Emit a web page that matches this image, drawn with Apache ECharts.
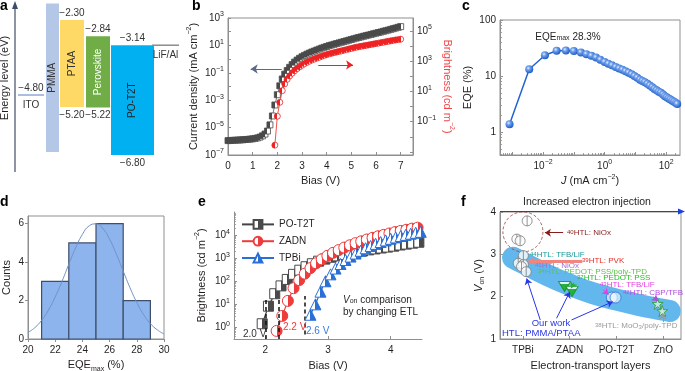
<!DOCTYPE html>
<html>
<head>
<meta charset="utf-8">
<script src="https://cdn.jsdelivr.net/npm/echarts@6.0.0/dist/echarts.min.js"></script>
<style>
html,body{margin:0;padding:0;background:#fff;}
#chart{width:685px;height:371px;}
</style>
</head>
<body>
<div id="chart"></div>
<script>
// ================= DATA =================
// Panel a: energy levels (eV)
const aLayers = ['ITO', 'PMMA', 'PTAA', 'Perovskite', 'PO-T2T', 'LiF/Al'];
const aTop    = [-4.80, -1.75, -2.30, -2.84, -3.14, -3.14];
const aBottom = [-4.80, -6.70, -5.20, -5.22, -6.80, -3.14];

// Panel b: current density (log10 mA cm-2) and brightness (log10 cd m-2) vs bias
const bBiasJ = [0,0.1,0.2,0.3,0.4,0.5,0.6,0.7,0.8,0.9,1.0,1.1,1.2,1.3,1.4,1.5,1.6,1.7,1.8,1.9,2.0,2.1,2.2,2.3,2.4,2.5,2.6,2.7,2.8,2.9,3.0,3.1,3.2,3.3,3.4,3.5,3.6,3.7,3.8,3.9,4.0,4.1,4.2,4.3,4.4,4.5,4.6,4.7,4.8,4.9,5.0,5.1,5.2,5.3,5.4,5.5,5.6,5.7,5.8,5.9,6.0,6.1,6.2,6.3,6.4,6.5,6.6,6.7,6.8,6.9,7.0];
const bLogJ = [-5.95,-5.94,-5.93,-5.92,-5.91,-5.9,-5.89,-5.87,-5.86,-5.84,-5.82,-5.79,-5.75,-5.69,-5.6,-5.47,-5.25,-4.8,-4.15,-3.35,-2.6,-1.95,-1.45,-1.1,-0.83,-0.6,-0.4,-0.22,-0.07,0.06,0.17,0.27,0.36,0.44,0.52,0.59,0.66,0.73,0.8,0.86,0.92,0.98,1.03,1.08,1.13,1.18,1.23,1.28,1.33,1.38,1.43,1.48,1.53,1.58,1.62,1.67,1.71,1.76,1.8,1.85,1.89,1.94,1.98,2.03,2.07,2.12,2.17,2.22,2.27,2.32,2.37];
const bBiasL = [1.9,2.0,2.1,2.2,2.3,2.4,2.5,2.6,2.7,2.8,2.9,3.0,3.1,3.2,3.3,3.4,3.5,3.6,3.7,3.8,3.9,4.0,4.1,4.2,4.3,4.4,4.5,4.6,4.7,4.8,4.9,5.0,5.1,5.2,5.3,5.4,5.5,5.6,5.7,5.8,5.9,6.0,6.1,6.2,6.3,6.4,6.5,6.6,6.7,6.8,6.9,7.0];
const bLogL = [-2.55,-0.64,0.28,1.05,1.5,1.8,2.02,2.2,2.36,2.5,2.62,2.73,2.83,2.92,3.0,3.07,3.14,3.2,3.26,3.32,3.38,3.43,3.48,3.52,3.56,3.6,3.64,3.68,3.72,3.76,3.8,3.84,3.88,3.92,3.95,3.98,4.01,4.04,4.07,4.1,4.13,4.16,4.19,4.22,4.25,4.28,4.31,4.34,4.37,4.4,4.42,4.45];

// Panel c: EQE (log10 %) vs current density (log10 mA cm-2)
const cLogJ = [-3.09,-2.45,-1.94,-1.56,-1.26,-1.0,-0.77,-0.59,-0.43,-0.28,-0.14,0.0,0.12,0.24,0.36,0.47,0.58,0.68,0.78,0.88,0.97,1.06,1.15,1.23,1.31,1.39,1.47,1.55,1.62,1.69,1.76,1.83,1.9,1.96,2.02,2.08,2.14,2.2,2.26,2.32,2.36];
const cLogEQE = [0.14,1.12,1.37,1.452,1.455,1.445,1.42,1.39,1.36,1.33,1.29,1.25,1.22,1.19,1.16,1.135,1.11,1.085,1.06,1.03,1.0,0.97,0.935,0.91,0.89,0.86,0.83,0.8,0.77,0.745,0.72,0.7,0.67,0.64,0.62,0.6,0.58,0.56,0.54,0.52,0.5];
const cPeakLabel = '28.3%';

// Panel d: EQEmax histogram + fit
const dBinStart = [21, 23, 25, 27];
const dBinEnd   = [23, 25, 27, 29];
const dCounts   = [3, 5, 6, 2];
const dFitX = [20,20.5,21,21.5,22,22.5,23,23.5,24,24.5,25,25.5,26,26.5,27,27.5,28,28.5,29,29.5,30];
const dFitY = [0.34,0.59,0.97,1.5,2.19,3.0,3.89,4.74,5.44,5.89,5.99,5.75,5.19,4.41,3.53,2.67,1.9,1.27,0.8,0.48,0.26];

// Panel e: brightness (log10 cd m-2) vs bias for three ETLs
const eNames = ['PO-T2T', 'ZADN', 'TPBi'];
const ePoV = [1.95,2.05,2.15,2.25,2.35,2.45,2.55,2.65,2.75,2.85,2.95,3.05,3.15,3.25,3.35,3.45,3.55,3.65,3.75,3.85,3.95,4.05,4.15,4.25,4.35,4.45];
const ePoL = [0.16,0.92,1.46,1.8,2.08,2.3,2.48,2.63,2.76,2.87,2.96,3.04,3.1,3.16,3.21,3.26,3.31,3.36,3.4,3.44,3.48,3.52,3.57,3.61,3.65,3.69];
const eZaV = [2.18,2.27,2.36,2.45,2.54,2.63,2.72,2.81,2.9,2.99,3.08,3.17,3.26,3.35,3.44,3.53,3.62,3.71,3.8,3.89,3.98,4.07,4.16,4.25,4.34,4.43];
const eZaL = [-0.15,0.5,1.15,1.7,2.05,2.33,2.57,2.78,2.95,3.1,3.23,3.35,3.46,3.56,3.65,3.73,3.81,3.88,3.95,4.01,4.07,4.13,4.18,4.23,4.28,4.32];
const eTpV = [2.72,2.8,2.88,2.96,3.04,3.12,3.2,3.28,3.36,3.44,3.52,3.6,3.68,3.76,3.84,3.92,4.0,4.08,4.16,4.24,4.32,4.4,4.48];
const eTpL = [0.55,1.0,1.55,2.0,2.3,2.55,2.75,2.92,3.07,3.2,3.32,3.43,3.53,3.62,3.7,3.77,3.84,3.9,3.96,4.01,4.06,4.1,4.14];
const eVon = [2.0, 2.22, 2.63];

// Panel f: Von (V) by electron-transport layer (x = category index)
const fCats = ['TPBi', 'ZADN', 'PO-T2T', 'ZnO'];
const fGray = [[0.09,3.79],[-0.13,3.36],[-0.06,3.32],[0.01,2.97],[-0.1,2.79],[0.01,2.76],[-0.03,2.71],[0.07,2.59]];
const fGreenTri = [[0.89,2.24],[1.05,2.12]];
const fBlueCirc = [[1.9,1.98],[1.98,1.98]];
const fStars = [[2.88,1.83],[2.98,1.66]];
const fBand = [[-0.21,2.92],[0,2.8],[0.5,2.52],[1,2.28],[1.5,2.08],[2,1.93],[2.5,1.8],[3,1.69],[3.14,1.66]];
const fNiOxGroup = [[0.0,3.53]];

// ================= STYLE / LAYOUT =================
const FONT = '"Liberation Sans", Arial, Helvetica, sans-serif';
const AXC = '#8f8f8f';
const TXC = '#231f20';

const A_LEFT  = [18, 46, 60, 86, 111, 152];
const A_RIGHT = [44, 59, 84, 110, 154, 179];
const A_FILL  = ['#8fa8d8', '#b4c7e7', '#ffd966', '#70ad47', '#00b0f0', '#8c8c8c'];
const A_NAMEC = ['#333', '#333', '#333', '#ffffff', '#222', '#333'];

function clean(o) {
  if (Array.isArray(o)) return o.map(clean);
  if (o && typeof o === 'object' && !(o instanceof echarts.graphic.LinearGradient) && !(o instanceof echarts.graphic.RadialGradient)) {
    const r = {};
    for (const k in o) { if (o[k] !== undefined) r[k] = clean(o[k]); }
    return r;
  }
  return o;
}
function richE(fs, color) {
  const s = Math.round(fs * 0.68);
  return {
    s: {fontSize: s, lineHeight: s, verticalAlign: 'top', color: color, fontFamily: FONT},
    u: {fontSize: s, lineHeight: s, verticalAlign: 'bottom', color: color, fontFamily: FONT},
    i: {fontSize: fs, fontStyle: 'italic', color: color, fontFamily: FONT}
  };
}
function richZ(fs, fill) {
  const s = Math.round(fs * 0.7);
  return {
    s: {fontSize: s, lineHeight: s, verticalAlign: 'top', fill: fill, fontFamily: FONT},
    u: {fontSize: s, lineHeight: s, verticalAlign: 'bottom', fill: fill, fontFamily: FONT},
    i: {fontSize: fs, fontStyle: 'italic', fill: fill, fontFamily: FONT}
  };
}
const fmtLog = v => '10{s|' + (v < 0 ? '\u2212' : '') + Math.abs(v) + '}';
// log-minor tick positions (k = 2..9 within each decade), inside [lo, hi]
function logMinor(lo, hi) {
  const out = [];
  for (let d = Math.floor(lo); d <= Math.ceil(hi); d++) {
    for (let k = 2; k <= 9; k++) { const v = d + Math.log10(k); if (v > lo && v < hi) out.push(v); }
  }
  return out;
}

function mkAxis(o) {
  const c = o.color || AXC;
  return {
    type: 'value', gridIndex: o.g, min: o.min, max: o.max, position: o.pos,
    show: o.show !== false,
    axisLine: {show: o.line !== false, onZero: false, lineStyle: {color: c, width: 1}},
    axisTick: {show: !!o.ticks, inside: o.inside !== false, length: o.tl || 3, customValues: o.ticks, lineStyle: {color: c, width: 1}},
    axisLabel: {show: !!o.labels, customValues: o.labels, formatter: o.fmt, color: o.lc || TXC, fontSize: 10, fontFamily: FONT,
                margin: o.lm == null ? 4 : o.lm, lineHeight: 14, rich: richE(10, o.lc || TXC)},
    splitLine: {show: false},
    minorTick: {show: false},
    name: o.name || '', nameLocation: 'middle', nameGap: o.gap || 20, nameRotate: o.rot,
    nameTextStyle: {color: o.nc || TXC, fontSize: 11, fontFamily: FONT, lineHeight: 15, rich: richE(11, o.nc || TXC)}
  };
}
// an overlay axis that only draws short minor ticks
function minorAxis(g, min, max, pos, ticks) {
  return mkAxis({g: g, min: min, max: max, pos: pos, ticks: ticks, tl: 1.8, line: false});
}
function halfFill(l, r) {
  return new echarts.graphic.LinearGradient(0, 0, 1, 0, [
    {offset: 0, color: l}, {offset: 0.5, color: l}, {offset: 0.5, color: r}, {offset: 1, color: r}]);
}
function T(x, y, text, opt) {
  opt = opt || {};
  const fs = opt.fontSize || 10;
  const fill = opt.fill || TXC;
  return {type: 'text', x: x, y: y, rotation: opt.rotation || 0, silent: true, z: 100,
    style: {text: text, fill: fill, fontSize: fs, fontFamily: FONT, fontWeight: opt.fontWeight || 'normal',
            align: opt.align || 'left', verticalAlign: 'middle', rich: richZ(fs, fill)}};
}
function zip(xs, ys) { return xs.map((x, i) => [x, ys[i]]); }
function arrowLines(list) {
  return list.map(a => [{coord: a.from, lineStyle: {color: a.color, width: a.w, type: 'solid'}, itemStyle: {color: a.color}}, {coord: a.to}]);
}

const gridBox = {show: true, borderColor: AXC, borderWidth: 1, backgroundColor: 'transparent', outerBoundsMode: 'none'};

const STAR = 'path://M50,2 L61,36 L97,36 L68,57 L79,92 L50,70 L21,92 L32,57 L3,36 L39,36 Z';
const SPLITC = 'path://M1,10 A9,9 0 1,1 19,10 A9,9 0 1,1 1,10 Z M10,1 L10,19';
const INVTRI = 'path://M0,0 L20,0 L10,17 Z';

// annotation arrows, in data coordinates
const bArrows = [
  {from: [2.18, -0.72], to: [0.92, -0.72], color: '#5b6b86', w: 1},
  {from: [3.66, 2.75], to: [5.07, 2.75], color: '#ee2222', w: 1}
];
const fArrows = [
  {from: [0.86, 3.51], to: [0.47, 3.51], color: '#8b1c1c', w: 1},
  {from: [1.27, 2.84], to: [0.12, 2.84], color: '#f2857d', w: 3},
  {from: [0.37, 1.45], to: [0.08, 2.43], color: '#2a35e8', w: 1},
  {from: [0.72, 1.49], to: [1.0, 2.11], color: '#2a35e8', w: 1},
  {from: [1.04, 1.45], to: [1.92, 1.88], color: '#2a35e8', w: 1},
  {from: [1.09, 2.33], to: [1.03, 2.2], color: '#22b422', w: 1},
  {from: [1.72, 2.16], to: [1.83, 2.05], color: '#e53ee5', w: 1},
  {from: [2.79, 1.99], to: [2.89, 1.9], color: '#b24be0', w: 1},
  {from: [2.99, 1.40], to: [2.99, 1.60], color: '#9a9a9a', w: 1}
];

// ================= OPTION =================
const chart = echarts.init(document.getElementById('chart'), null, {renderer: 'canvas', width: 685, height: 371});

const option = {
  animation: false,
  backgroundColor: '#ffffff',
  textStyle: {fontFamily: FONT},
  grid: [
    {left: 0, top: 0, width: 185, height: 180, outerBoundsMode: 'none'},
    Object.assign({left: 228, top: 18, width: 185, height: 137}, gridBox),
    Object.assign({left: 500, top: 20, width: 180, height: 135}, gridBox),
    Object.assign({left: 28, top: 216, width: 136, height: 123}, gridBox),
    {left: 234, top: 212, width: 188, height: 127, outerBoundsMode: 'none'},
    Object.assign({left: 500, top: 212, width: 181, height: 127}, gridBox)
  ],
  xAxis: [
    mkAxis({g: 0, min: 0, max: 185, show: false}),
    mkAxis({g: 1, min: 0, max: 7.5, pos: 'bottom', ticks: [0,1,2,3,4,5,6,7], labels: [0,1,2,3,4,5,6,7], name: 'Bias (V)', gap: 18}),
    mkAxis({g: 2, min: -3.4, max: 2.45, pos: 'bottom', ticks: [-3,-2,-1,0,1,2], labels: [-2,0,2], fmt: fmtLog, name: '{i|J} (mA cm{s|\u22122})', gap: 17}),
    mkAxis({g: 3, min: 20, max: 30, pos: 'bottom', ticks: [20,22,24,26,28,30], labels: [20,22,24,26,28,30], inside: false, name: 'EQE{u|max} (%)', gap: 17}),
    mkAxis({g: 4, min: 1.5, max: 4.5, pos: 'bottom', ticks: [2,3,4], labels: [2,3,4], name: 'Bias (V)', gap: 19}),
    mkAxis({g: 5, min: -0.49, max: 3.38, pos: 'bottom', ticks: [0,1,2,3], labels: [0,1,2,3], fmt: v => fCats[v], name: 'Electron-transport layers', gap: 19}),
    minorAxis(2, -3.4, 2.45, 'bottom', logMinor(-3.4, 2.45))
  ],
  yAxis: [
    mkAxis({g: 0, min: -7.633, max: -1.633, show: false}),
    mkAxis({g: 1, min: -7, max: 3, pos: 'left', ticks: [-7,-6,-5,-4,-3,-2,-1,0,1,2,3], labels: [-7,-5,-3,-1,1,3], fmt: fmtLog, name: 'Current density (mA cm{s|\u22122})', gap: 22}),
    mkAxis({g: 1, min: -3.2, max: 5.85, pos: 'right', ticks: [-3,-2,-1,0,1,2,3,4,5], labels: [-1,1,3,5], fmt: fmtLog, name: 'Brightness (cd m{s|\u22122})', gap: 22, rot: -90, nc: '#f0484a'}),
    mkAxis({g: 2, min: -0.41, max: 2, pos: 'left', ticks: [0,1,2], labels: [0,1,2], fmt: v => String(Math.round(Math.pow(10, v))), name: 'EQE (%)', gap: 25}),
    mkAxis({g: 3, min: 0, max: 6.4, pos: 'left', ticks: [0,2,4,6], labels: [0,2,4,6], inside: false, name: 'Counts', gap: 14}),
    mkAxis({g: 4, min: -0.5, max: 5, pos: 'left', ticks: [0,1,2,3,4], labels: [0,1,2,3,4], fmt: fmtLog, name: 'Brightness (cd m{s|\u22122})', gap: 25}),
    mkAxis({g: 5, min: 1, max: 4, pos: 'left', ticks: [1,2,3,4], labels: [1,2,3,4], name: '{i|V}{u|on} (V)', gap: 14}),
    minorAxis(2, -0.41, 2, 'left', logMinor(-0.41, 2)),
    minorAxis(4, -0.5, 5, 'left', logMinor(-0.5, 5))
  ],
  legend: {
    data: eNames, orient: 'vertical', left: 236, top: 214, itemWidth: 32, itemHeight: 11, itemGap: 6,
    textStyle: {fontSize: 10, color: TXC, fontFamily: FONT}, selectedMode: false
  },
  series: [
    // ---- a ----
    {
      type: 'custom', xAxisIndex: 0, yAxisIndex: 0, silent: true, clip: false,
      data: aLayers.map((n, i) => [i, aTop[i], aBottom[i]]),
      renderItem: function (params, api) {
        const i = params.dataIndex;
        const top = api.value(1), bot = api.value(2);
        const p0 = api.coord([A_LEFT[i], top]);
        const p1 = api.coord([A_RIGHT[i], bot]);
        const cx = (p0[0] + p1[0]) / 2;
        const txt = (x, y, s, fill, rot) => ({type: 'text', x: x, y: y, rotation: rot || 0,
          style: {text: s, fill: fill || '#333', fontSize: 10, fontFamily: FONT, align: 'center', verticalAlign: 'middle'}});
        const fmtE = v => '\u2212' + Math.abs(v).toFixed(2);
        const ch = [];
        if (top === bot) {
          ch.push({type: 'line', shape: {x1: p0[0], y1: p0[1], x2: p1[0], y2: p0[1]}, style: {stroke: A_FILL[i], lineWidth: 1.5}});
          ch.push(txt(cx, p0[1] + 10, aLayers[i], '#333'));
          if (i === 0) ch.push(txt(cx, p0[1] - 7, fmtE(top), '#333'));
        } else {
          ch.push({type: 'rect', shape: {x: p0[0], y: p0[1], width: p1[0] - p0[0], height: p1[1] - p0[1]}, style: {fill: A_FILL[i]}});
          ch.push(txt(cx, (p0[1] + p1[1]) / 2, aLayers[i], A_NAMEC[i], Math.PI / 2));
          if (aLayers[i] !== 'PMMA') {
            ch.push(txt(cx, p0[1] - 7, fmtE(top), '#333'));
            ch.push(txt(cx, p1[1] + 8, fmtE(bot), '#333'));
          }
        }
        return {type: 'group', children: ch};
      }
    },
    // ---- b ----
    {
      type: 'line', xAxisIndex: 1, yAxisIndex: 1, data: zip(bBiasJ, bLogJ), z: 3,
      symbol: 'rect', symbolSize: 6, lineStyle: {color: '#555', width: 0.8},
      itemStyle: {color: halfFill('#4a4a4a', '#ffffff'), borderColor: '#4a4a4a', borderWidth: 0.8},
      markLine: {silent: true, symbol: ['none', 'arrow'], symbolSize: 7, label: {show: false},
        data: arrowLines(bArrows.slice(0, 1))}
    },
    {
      type: 'line', xAxisIndex: 1, yAxisIndex: 2, data: zip(bBiasL, bLogL), z: 4,
      symbol: 'circle', symbolSize: 6, lineStyle: {color: '#ee2222', width: 0.8},
      itemStyle: {color: halfFill('#ee2222', '#ffffff'), borderColor: '#ee2222', borderWidth: 0.8},
      markLine: {silent: true, symbol: ['none', 'arrow'], symbolSize: 7, label: {show: false},
        data: arrowLines(bArrows.slice(1, 2))}
    },
    // ---- c ----
    {
      type: 'line', xAxisIndex: 2, yAxisIndex: 3, data: zip(cLogJ, cLogEQE), z: 3,
      symbol: 'circle', symbolSize: 8, lineStyle: {color: '#2163d2', width: 1.5},
      itemStyle: {color: new echarts.graphic.RadialGradient(0.38, 0.35, 0.65, [
        {offset: 0, color: '#e6f0ff'}, {offset: 0.35, color: '#6fa0ec'}, {offset: 1, color: '#1d5cc8'}]), borderWidth: 0}
    },
    // ---- d ----
    {
      type: 'custom', xAxisIndex: 3, yAxisIndex: 4, silent: true,
      data: dBinStart.map((s, i) => [s, dBinEnd[i], dCounts[i]]),
      renderItem: function (params, api) {
        const p0 = api.coord([api.value(0), api.value(2)]);
        const p1 = api.coord([api.value(1), 0]);
        return {type: 'rect', shape: {x: p0[0], y: p0[1], width: p1[0] - p0[0], height: p1[1] - p0[1]},
          style: {fill: '#8db4ec', stroke: '#3e4f6c', lineWidth: 1.2}};
      }
    },
    {
      type: 'line', xAxisIndex: 3, yAxisIndex: 4, data: zip(dFitX, dFitY), smooth: true, symbol: 'none', z: 5,
      lineStyle: {color: '#7391c9', width: 1}
    },
    // ---- e ----
    {
      name: 'PO-T2T', type: 'line', xAxisIndex: 4, yAxisIndex: 5, data: zip(ePoV, ePoL), z: 3,
      symbol: 'rect', symbolSize: 10, lineStyle: {color: '#444', width: 1.2},
      itemStyle: {color: halfFill('#ffffff', '#4a4a4a'), borderColor: '#4a4a4a', borderWidth: 1},
      markLine: {silent: true, symbol: 'none', label: {show: false}, lineStyle: {color: '#111', width: 1.5, type: [4, 3]},
        data: [[{coord: [eVon[0], -0.5]}, {coord: [eVon[0], 1.29]}]]}
    },
    {
      name: 'ZADN', type: 'line', xAxisIndex: 4, yAxisIndex: 5, data: zip(eZaV, eZaL), z: 4,
      symbol: 'circle', symbolSize: 11, lineStyle: {color: '#ee3b3b', width: 1.2},
      itemStyle: {color: halfFill('#ffffff', '#ee3b3b'), borderColor: '#ee3b3b', borderWidth: 1},
      markLine: {silent: true, symbol: 'none', label: {show: false}, lineStyle: {color: '#111', width: 1.5, type: [4, 3]},
        data: [[{coord: [eVon[1], -0.5]}, {coord: [eVon[1], 1.21]}]]}
    },
    {
      name: 'TPBi', type: 'line', xAxisIndex: 4, yAxisIndex: 5, data: zip(eTpV, eTpL), z: 5,
      symbol: 'triangle', symbolSize: 11, lineStyle: {color: '#2a6fd6', width: 1.2},
      itemStyle: {color: halfFill('#ffffff', '#2a6fd6'), borderColor: '#2a6fd6', borderWidth: 1},
      markLine: {silent: true, symbol: 'none', label: {show: false}, lineStyle: {color: '#111', width: 1.5, type: [4, 3]},
        data: [[{coord: [eVon[2], -0.3]}, {coord: [eVon[2], 1.36]}]]}
    },
    // ---- f ----
    {
      type: 'line', xAxisIndex: 5, yAxisIndex: 6, data: fBand, smooth: true, symbol: 'none', z: 1, silent: true,
      lineStyle: {color: '#62b8ec', width: 22, cap: 'round'}
    },
    {
      type: 'scatter', xAxisIndex: 5, yAxisIndex: 6, data: fNiOxGroup, symbol: 'circle', symbolSize: 40, z: 2, silent: true,
      itemStyle: {color: 'rgba(0,0,0,0)', borderColor: '#a33a3a', borderWidth: 1, borderType: [3, 2]}
    },
    {
      type: 'scatter', xAxisIndex: 5, yAxisIndex: 6, data: fGray, symbol: SPLITC, symbolSize: 10, z: 4, silent: true,
      itemStyle: {color: '#ffffff', borderColor: '#7a7a7a', borderWidth: 1},
      markLine: {silent: true, symbol: ['none', 'arrow'], symbolSize: 6, label: {show: false},
        data: arrowLines(fArrows)}
    },
    {
      type: 'scatter', xAxisIndex: 5, yAxisIndex: 6, data: fGreenTri, symbol: INVTRI, symbolSize: [12, 10], z: 4, silent: true,
      itemStyle: {color: new echarts.graphic.LinearGradient(0, 0, 0, 1, [
        {offset: 0, color: '#ffffff'}, {offset: 0.3, color: '#ffffff'}, {offset: 0.3, color: '#16b016'}, {offset: 1, color: '#16b016'}]),
        borderColor: '#0f8f0f', borderWidth: 1}
    },
    {
      type: 'scatter', xAxisIndex: 5, yAxisIndex: 6, data: fBlueCirc, symbol: 'circle', symbolSize: 11, z: 4, silent: true,
      itemStyle: {color: 'rgba(255,255,255,0.75)', borderColor: '#2a6fd6', borderWidth: 1}
    },
    {
      type: 'scatter', xAxisIndex: 5, yAxisIndex: 6, data: fStars, symbol: STAR, symbolSize: 11, z: 4, silent: true,
      itemStyle: {color: '#dff3df', borderColor: '#2a9a2a', borderWidth: 1}
    }
  ],
  graphic: [
    // panel letters
    T(0, 6, 'a', {fontSize: 14, fontWeight: 'bold', fill: '#000'}),
    T(192, 6, 'b', {fontSize: 14, fontWeight: 'bold', fill: '#000'}),
    T(462, 6, 'c', {fontSize: 14, fontWeight: 'bold', fill: '#000'}),
    T(0, 202, 'd', {fontSize: 14, fontWeight: 'bold', fill: '#000'}),
    T(198, 202, 'e', {fontSize: 14, fontWeight: 'bold', fill: '#000'}),
    T(461, 202, 'f', {fontSize: 14, fontWeight: 'bold', fill: '#000'}),
    // panel a axis
    {type: 'line', silent: true, shape: {x1: 15, y1: 172, x2: 15, y2: 8}, style: {stroke: '#3e4c6a', lineWidth: 1.2}},
    {type: 'polygon', silent: true, shape: {points: [[15, 1], [12, 9], [18, 9]]}, style: {fill: '#3e4c6a'}},
    T(5, 78, 'Energy level (eV)', {fontSize: 11, align: 'center', rotation: Math.PI / 2}),
    // panel c annotation
    T(568, 37, 'EQE{u|max} ' + cPeakLabel, {align: 'center', fontSize: 10}),
    // panel e annotations
    T(243, 334, '2.0 V', {fill: '#333'}),
    T(283, 327, '2.2 V', {fill: '#ee3b3b'}),
    T(306, 331, '2.6 V', {fill: '#3a7be0'}),
    T(343, 300, '{i|V}{u|on} comparison'),
    T(343, 312, 'by changing ETL'),
    // panel f
    T(587, 202, 'Increased electron injection', {align: 'center', fontSize: 10.5}),
    {type: 'line', silent: true, z: 100, shape: {x1: 500, y1: 211.5, x2: 680, y2: 211.5}, style: {stroke: '#1f3fdd', lineWidth: 1.2}},
    {type: 'polygon', silent: true, z: 100, shape: {points: [[685, 211.5], [678, 208.5], [678, 214.5]]}, style: {fill: '#1f3fdd'}},
    T(567, 233, '{s|40}HTL: NiOx', {fill: '#8b1c1c', fontSize: 8}),
    T(530, 255, '{s|44}HTL: TFB/LiF', {fill: '#159a9a', fontSize: 8}),
    T(582, 261, '{s|39}HTL: PVK', {fill: '#e52d27', fontSize: 8}),
    T(535, 266, '{s|41}HTL: NiOx', {fill: '#9b6fd0', fontSize: 8}),
    T(538, 272, '{s|34}HTL: PEDOT: PSS/poly-TPD', {fill: '#5ec04a', fontSize: 8}),
    T(577, 278, '{s|37}HTL: PEDOT: PSS', {fill: '#1fbf1f', fontSize: 8}),
    T(600, 285, '{s|43}HTL: TFB/LiF', {fill: '#e53ee5', fontSize: 8}),
    T(623, 293, '{s|42}HTL: CBP/TFB', {fill: '#b24be0', fontSize: 8}),
    T(595, 326, '{s|38}HTL: MoO{u|3}/poly-TPD', {fill: '#9a9a9a', fontSize: 8}),
    T(551, 323, 'Our work', {fill: '#2a35e8', fontSize: 9.5, align: 'center'}),
    T(502, 333, 'HTL: PMMA/PTAA', {fill: '#2a35e8', fontSize: 9.5})
  ]
};

chart.setOption(clean(option));
</script>
</body>
</html>
